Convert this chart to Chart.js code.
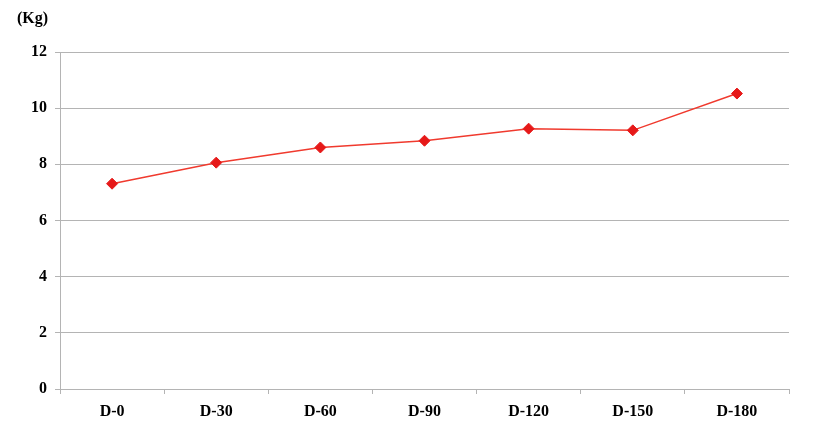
<!DOCTYPE html>
<html>
<head>
<meta charset="utf-8">
<script src="https://cdn.jsdelivr.net/npm/chart.js@4/dist/chart.umd.min.js"></script>
<style>
html,body{margin:0;padding:0;background:#fff;}
#wrap{width:827px;height:442px;position:relative;}
</style>
</head>
<body>
<div id="wrap"><canvas id="c" width="827" height="442"></canvas></div>
<script>
const categories = ["D-0","D-30","D-60","D-90","D-120","D-150","D-180"];
const weights = [7.31, 8.06, 8.6, 8.84, 9.27, 9.21, 10.52];
const yTicks = [0, 2, 4, 6, 8, 10, 12];
const unitLabel = "(Kg)";

const FONT = "'Liberation Serif','Times New Roman',serif";

const unitPlugin = {
  id: 'unitLabel',
  afterDraw(chart) {
    const ctx = chart.ctx;
    ctx.save();
    ctx.font = "bold 16px " + FONT;
    ctx.fillStyle = "#000";
    ctx.textAlign = "left";
    ctx.textBaseline = "middle";
    ctx.fillText(unitLabel, 17, 19);
    ctx.restore();
  }
};

new Chart(document.getElementById('c'), {
  type: 'line',
  data: {
    labels: categories,
    datasets: [{
      data: weights,
      borderColor: '#f03a2e',
      borderWidth: 1.5,
      backgroundColor: '#e61919',
      pointStyle: 'rectRot',
      pointRadius: 5.5,
      pointHoverRadius: 5.5,
      pointBackgroundColor: '#e61919',
      pointBorderColor: '#e61919',
      pointBorderWidth: 1,
      tension: 0
    }]
  },
  options: {
    responsive: false,
    animation: false,
    devicePixelRatio: 1,
    layout: { padding: { left: 0, right: 38, top: 52, bottom: 0 } },
    plugins: { legend: { display: false }, tooltip: { enabled: false } },
    scales: {
      x: {
        offset: true,
        grid: { display: true, offset: true, drawOnChartArea: false, drawTicks: true, tickLength: 5, color: '#b4b4b4' },
        border: { display: true, color: '#b4b4b4', width: 1 },
        ticks: { color: '#000', font: { family: FONT, size: 16, weight: 'bold' }, padding: 8, maxRotation: 0 },
        afterFit(axis) { axis.height = 53; }
      },
      y: {
        min: 0, max: 12,
        afterBuildTicks(axis) { axis.ticks = yTicks.map(v => ({ value: v })); },
        grid: { color: '#b4b4b4', lineWidth: 1, drawTicks: true, tickLength: 5 },
        border: { display: true, color: '#b4b4b4', width: 1 },
        ticks: { color: '#000', font: { family: FONT, size: 16, weight: 'bold' }, padding: 8 },
        afterFit(axis) { axis.width = 60; }
      }
    }
  },
  plugins: [unitPlugin]
});
</script>
</body>
</html>
